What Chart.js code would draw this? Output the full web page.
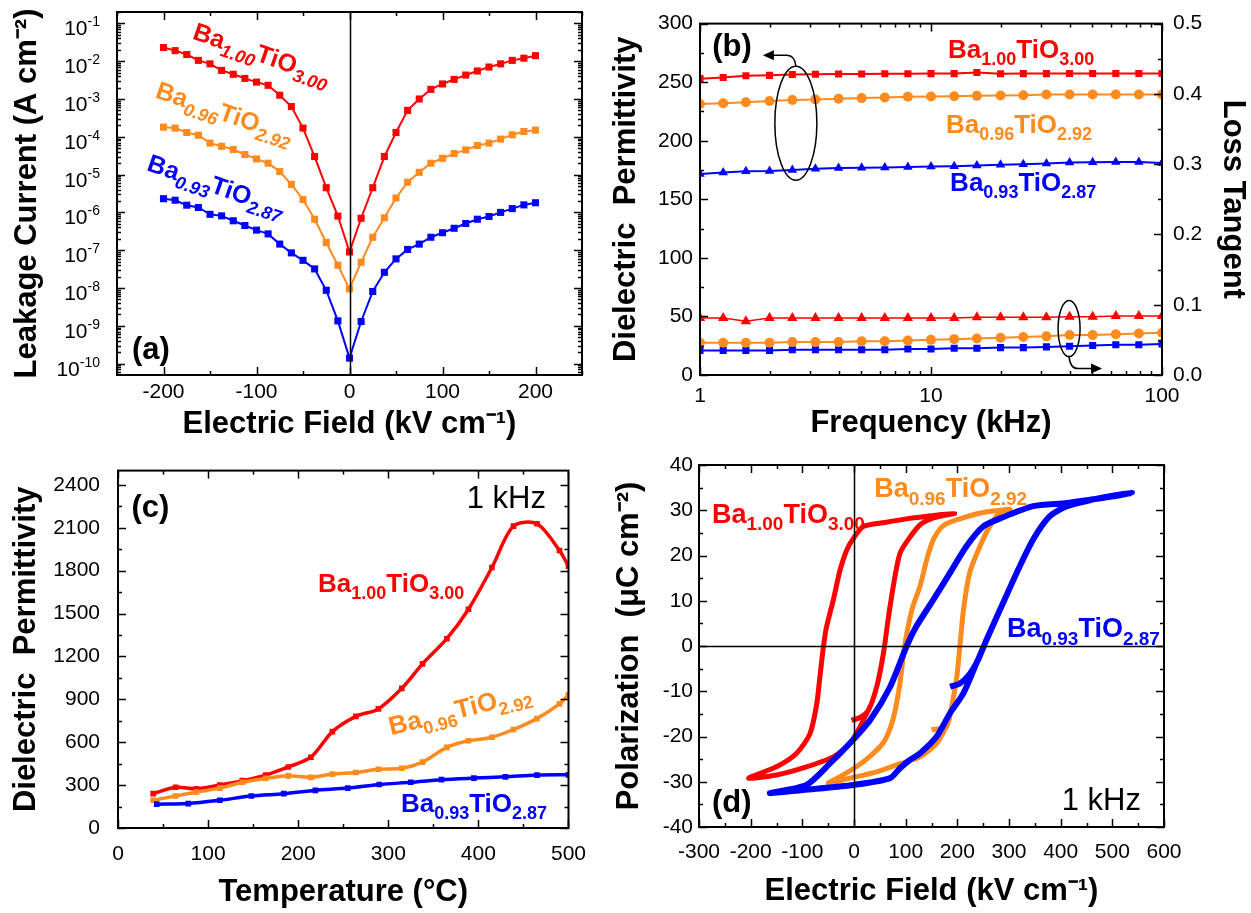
<!DOCTYPE html>
<html>
<head>
<meta charset="utf-8">
<title>BaTiO3 panels</title>
<script src="https://cdn.jsdelivr.net/npm/chart.js@4.4.1/dist/chart.umd.min.js"></script>
<style>
  html, body { margin: 0; padding: 0; background: #fff; }
  #fig { position: relative; width: 1251px; height: 913px; overflow: hidden; }
  canvas { position: absolute; }
  #chartA { left: 0; top: 0; }
  #chartB { left: 600px; top: 0; }
  #chartC { left: 0; top: 440px; }
  #chartD { left: 600px; top: 440px; }
</style>
</head>
<body>
<div id="fig">
  <canvas id="chartA" width="600" height="440"></canvas>
  <canvas id="chartB" width="651" height="440"></canvas>
  <canvas id="chartC" width="600" height="473"></canvas>
  <canvas id="chartD" width="651" height="473"></canvas>
</div>
<script>
// ---- (a) leakage current vs field ----
const fieldA = [-200, -187.5, -175, -162.5, -150, -137.5, -125, -112.5, -100, -87.5, -75, -62.5, -50, -37.5, -25, -12.5,
  0, 12.5, 25, 37.5, 50, 62.5, 75, 87.5, 100, 112.5, 125, 137.5, 150, 162.5, 175, 187.5, 200];
const leakRed = [2.3e-2, 1.9e-2, 1.5e-2, 1.05e-2, 8.5e-3, 5.7e-3, 4.5e-3, 3.5e-3, 2.8e-3, 2.3e-3, 1.26e-3, 6.3e-4, 1.7e-4, 3e-5, 4.5e-6, 8e-7,
  9e-8, 7e-7, 4.5e-6, 3e-5, 1.3e-4, 5e-4, 1e-3, 1.8e-3, 2.5e-3, 3.3e-3, 4.3e-3, 5.5e-3, 7e-3, 8.5e-3, 1.05e-2, 1.2e-2, 1.4e-2];
const leakOrange = [1.8e-4, 1.7e-4, 1.3e-4, 1.1e-4, 6.8e-5, 5.6e-5, 4.6e-5, 3.4e-5, 2.6e-5, 2e-5, 1.2e-5, 5.5e-6, 2.2e-6, 6.6e-7, 1.6e-7, 4e-8,
  9.5e-9, 4.8e-8, 2.2e-7, 7.2e-7, 2.4e-6, 6.3e-6, 1.15e-5, 2e-5, 2.7e-5, 3.6e-5, 4.5e-5, 5.9e-5, 6.8e-5, 8.7e-5, 1.13e-4, 1.38e-4, 1.5e-4];
const leakBlue = [2.3e-6, 2.1e-6, 1.55e-6, 1.35e-6, 8.9e-7, 8.1e-7, 6e-7, 4.5e-7, 3.4e-7, 2.7e-7, 1.45e-7, 8.5e-8, 5.4e-8, 3.2e-8, 8.7e-9, 1.35e-9,
  1.4e-10, 1.3e-9, 8.1e-9, 2.6e-8, 5.9e-8, 1.05e-7, 1.45e-7, 2.2e-7, 2.9e-7, 3.8e-7, 5.1e-7, 6.6e-7, 7.8e-7, 1e-6, 1.26e-6, 1.58e-6, 1.8e-6];
const ticksAx = [-200, -100, 0, 100, 200];
const minorAx = [-250, -150, -50, 50, 150, 250];
const decadesA = [-10, -9, -8, -7, -6, -5, -4, -3, -2, -1];

// ---- (b) permittivity / loss vs frequency ----
const freqB = [1, 1.26, 1.58, 2, 2.51, 3.16, 3.98, 5.01, 6.31, 7.94, 10, 12.6, 15.8, 20, 25.1, 31.6, 39.8, 50.1, 63.1, 79.4, 100];
const permRed = [253, 254, 255.5, 255.8, 256.5, 256.8, 257, 257, 257.2, 257.2, 257.3, 257.3, 258.3, 257.2, 257.3, 257.3, 257.4, 257.4, 257.4, 257.4, 257.4];
const permOrange = [231.4, 232, 232.8, 233.9, 234.7, 235.3, 235.8, 236.4, 236.9, 237.5, 237.8, 238, 238.3, 238.6, 238.9, 239.4, 239.4, 239.4, 239.4, 239.4, 239.4];
const permBlue = [171.7, 172.8, 173.9, 174.2, 175, 176, 176.7, 177, 177.2, 177.5, 178, 178.3, 178.9, 179.4, 180, 180.5, 181.4, 181.7, 181.9, 181.9, 181];
const tanRed = [0.081, 0.081, 0.0765, 0.081, 0.081, 0.081, 0.081, 0.081, 0.081, 0.081, 0.081, 0.081, 0.082, 0.082, 0.082, 0.082, 0.083, 0.083, 0.084, 0.084, 0.084];
const tanOrange = [0.046, 0.046, 0.046, 0.046, 0.047, 0.047, 0.047, 0.048, 0.048, 0.049, 0.050, 0.051, 0.052, 0.053, 0.054, 0.055, 0.057, 0.057, 0.058, 0.059, 0.060];
const tanBlue = [0.035, 0.035, 0.035, 0.035, 0.036, 0.036, 0.036, 0.036, 0.036, 0.037, 0.037, 0.038, 0.038, 0.039, 0.039, 0.040, 0.041, 0.042, 0.043, 0.043, 0.044];
const ticksBx = [1, 10, 100];
const minorBx = [2, 3, 4, 5, 6, 7, 8, 9, 20, 30, 40, 50, 60, 70, 80, 90];
const ticksBy = [0, 50, 100, 150, 200, 250, 300];
const minorBy = [25, 75, 125, 175, 225, 275];
const ticksBy2 = [0, 0.1, 0.2, 0.3, 0.4, 0.5];
const minorBy2 = [0.05, 0.15, 0.25, 0.35, 0.45];

// ---- (c) permittivity vs temperature ----
const tempRed = [39, 64, 87, 113, 138, 164, 189, 214, 238, 264, 289, 315, 338, 365, 389, 415, 439, 465, 490, 500];
const epsRed = [240, 285, 274, 301, 331, 370, 427, 495, 674, 781, 833, 977, 1148, 1324, 1530, 1822, 2112, 2128, 1941, 1831];
const tempOrange = [39, 64, 87, 113, 138, 164, 189, 214, 238, 264, 289, 315, 338, 365, 389, 415, 439, 465, 490, 500];
const epsOrange = [194, 224, 251, 279, 320, 347, 365, 354, 377, 388, 411, 418, 461, 564, 610, 635, 689, 765, 868, 932];
const tempBlue = [43, 78, 113, 148, 184, 219, 255, 290, 325, 359, 395, 430, 465, 500];
const epsBlue = [167, 171, 194, 224, 240, 263, 279, 304, 320, 338, 349, 358, 370, 372];
const ticksCx = [0, 100, 200, 300, 400, 500];
const minorCx = [50, 150, 250, 350, 450];
const ticksCy = [0, 300, 600, 900, 1200, 1500, 1800, 2100, 2400];
const minorCy = [150, 450, 750, 1050, 1350, 1650, 1950, 2250];

// ---- (d) P-E loops ----
const fieldRed = [-5, 12, 28, 44, 57, 66, 76, 89, 108, 128, 154, 195, 150, 108, 60, 18, -1, -14, -27, -40, -53, -59, -66, -72, -85, -111, -150, -204, -150, -92, -40, -8, 12, 31];
const polRed = [-16.4, -15.8, -14.2, -9, -1.6, 5.8, 13.2, 20.5, 24, 26.8, 28.3, 29.3, 28.8, 28.2, 27.3, 26.4, 23.8, 21.2, 16.8, 10.2, 4.3, 0, -6.8, -12.7, -19.3, -23.7, -26.7, -29.2, -28.5, -26.7, -24.5, -21.5, -17.8, -13.4];
const fieldOrange = [150, 179, 189, 199, 205, 212, 224, 244, 263, 283, 302, 250, 205, 173, 154, 141, 128, 112, 98, 88, 75, 56, 18, -21, -50, -8, 44, 89, 128, 160, 179];
const polOrange = [-18.5, -17.8, -13.4, -6.8, 0, 8.1, 16.2, 22.1, 26.5, 29.5, 30.2, 29.5, 28.1, 26.6, 23.6, 19.2, 13.3, 8, 0, -9, -16.4, -21.5, -25.6, -28.5, -30.3, -29.2, -27.8, -26, -24.5, -21.5, -17.8];
const fieldBlue = [186, 205, 222, 237, 257, 283, 315, 347, 379, 412, 463, 509, 538, 509, 412, 347, 283, 250, 218, 186, 154, 121, 102, 70, 31, -8, -46, -92, -163, -99, -1, 70, 89, 108, 128, 160, 186, 212, 237];
const polBlue = [-9, -8.3, -6.5, -3.8, 1.5, 8.1, 16.2, 23.6, 28.7, 30.9, 32.4, 33.4, 33.8, 33.2, 31.6, 30.9, 28.2, 26.4, 22.1, 16.2, 10.3, 4.4, 0, -9, -16.4, -21.5, -25.9, -30.7, -32.5, -31.8, -30.7, -29.2, -27, -25.2, -23.7, -20, -14.8, -10.4, -3.8];
const ticksDx = [-300, -200, -100, 0, 100, 200, 300, 400, 500, 600];
const minorDx = [-250, -150, -50, 50, 150, 250, 350, 450, 550];
const ticksDy = [-40, -30, -20, -10, 0, 10, 20, 30, 40];
const minorDy = [-35, -25, -15, -5, 5, 15, 25, 35];

const FONT = '"Liberation Sans", Arial, Helvetica, sans-serif';
const RED = '#ff0000', ORANGE = '#ff8a1e', BLUE = '#0000ff';

function pts(xs, ys) {
  return xs.map((x, i) => ({ x: x, y: ys[i] }));
}

// log minor ticks (2..9 per decade)
function logMinor(lo, hi) {
  const out = [];
  for (let n = lo; n <= hi; n++) for (let k = 2; k <= 9; k++) out.push(k * Math.pow(10, n));
  return out;
}

function axis(o) {
  return {
    type: o.type || 'linear',
    position: o.position,
    min: o.min,
    max: o.max,
    grid: { display: false, drawTicks: false },
    border: { display: false },
    ticks: {
      display: o.showLabels !== false,
      color: '#000',
      font: { family: FONT, size: 21 },
      padding: o.pad,
      autoSkip: false,
      maxRotation: 0,
      callback: o.fmt || (v => String(v))
    },
    title: {
      display: true,
      text: o.title,
      color: '#000',
      font: { family: FONT, size: 31, weight: 'bold', lineHeight: 1 },
      padding: o.titlePad
    },
    afterBuildTicks: s => { s.ticks = o.ticks.map(v => ({ value: v })); },
    afterFit: s => { if (s.isHorizontal()) s.height = o.size; else s.width = o.size; }
  };
}

// chemical formula with subscripts, parts alternate main / subscript
function drawFormula(ctx, x, y, it) {
  const S = it.size;
  ctx.save();
  ctx.translate(x, y);
  ctx.rotate((it.angle || 0) * Math.PI / 180);
  ctx.fillStyle = it.color;
  ctx.textAlign = 'left';
  ctx.textBaseline = 'alphabetic';
  let cx = 0;
  it.parts.forEach((p, i) => {
    const sub = i % 2 === 1;
    const sz = sub ? Math.round(S * 0.7) : S;
    ctx.font = (sub && it.italicSub ? 'italic ' : '') + 'bold ' + sz + 'px ' + FONT;
    ctx.fillText(p, cx, sub ? S * 0.28 : 0);
    cx += ctx.measureText(p).width;
  });
  ctx.restore();
}

function arrowHead(ctx, x, y, dir) {
  ctx.beginPath();
  ctx.moveTo(x, y);
  ctx.lineTo(x - dir * 11, y - 5);
  ctx.lineTo(x - dir * 11, y + 5);
  ctx.closePath();
  ctx.fill();
}

const decor = {
  id: 'decor',
  afterDatasetsDraw(chart, args, o) {
    const ctx = chart.ctx, a = chart.chartArea, sc = chart.scales;
    ctx.save();
    ctx.strokeStyle = '#000';
    ctx.fillStyle = '#000';
    ctx.lineWidth = 1.5;
    (o.zeroV || []).forEach(v => {
      const p = Math.round(sc.x.getPixelForValue(v)) + 0.5;
      ctx.beginPath(); ctx.moveTo(p, a.top); ctx.lineTo(p, a.bottom); ctx.stroke();
    });
    (o.zeroH || []).forEach(v => {
      const p = Math.round(sc.y.getPixelForValue(v)) + 0.5;
      ctx.beginPath(); ctx.moveTo(a.left, p); ctx.lineTo(a.right, p); ctx.stroke();
    });
    // frame
    ctx.lineWidth = 2;
    ctx.strokeRect(a.left, a.top, a.right - a.left, a.bottom - a.top);
    // inward tick marks
    ctx.lineWidth = 1.5;
    (o.marks || []).forEach(m => {
      const s = sc[m.scale];
      const draw = (vals, len) => vals.forEach(v => {
        if (v < s.min || v > s.max) return;
        const p = Math.round(s.getPixelForValue(v)) + 0.5;
        m.sides.forEach(side => {
          ctx.beginPath();
          if (side === 'bottom') { ctx.moveTo(p, a.bottom); ctx.lineTo(p, a.bottom - len); }
          if (side === 'top') { ctx.moveTo(p, a.top); ctx.lineTo(p, a.top + len); }
          if (side === 'left') { ctx.moveTo(a.left, p); ctx.lineTo(a.left + len, p); }
          if (side === 'right') { ctx.moveTo(a.right, p); ctx.lineTo(a.right - len, p); }
          ctx.stroke();
        });
      });
      draw(m.major, 8);
      draw(m.minor || [], 4);
    });
    // ellipses with arrows (panel b)
    (o.ellipses || []).forEach(e => {
      const cx = sc.x.getPixelForValue(e.x), cy = sc[e.yScale].getPixelForValue(e.y);
      ctx.lineWidth = 1.5;
      ctx.beginPath(); ctx.ellipse(cx, cy, e.rx, e.ry, 0, 0, Math.PI * 2); ctx.stroke();
      ctx.beginPath();
      if (e.arrow === 'left') {
        const t = cy - e.ry, yy = t - 11;
        ctx.moveTo(cx, t);
        ctx.quadraticCurveTo(cx - 1, yy, cx - 9, yy);
        ctx.lineTo(cx - 24, yy);
        ctx.stroke();
        arrowHead(ctx, cx - 33, yy, -1);
      } else {
        const b = cy + e.ry, yy = b + 12;
        ctx.moveTo(cx, b);
        ctx.quadraticCurveTo(cx + 1, yy, cx + 9, yy);
        ctx.lineTo(cx + 24, yy);
        ctx.stroke();
        arrowHead(ctx, cx + 33, yy, 1);
      }
    });
    ctx.restore();
  },
  afterDraw(chart, args, o) {
    const ctx = chart.ctx, sc = chart.scales;
    ctx.save();
    // 10^n labels for the log axis (panel a)
    if (o.expLabels) {
      const e = o.expLabels, s = sc[e.scale];
      ctx.fillStyle = '#000';
      ctx.textAlign = 'right';
      ctx.textBaseline = 'alphabetic';
      e.values.forEach(n => {
        const p = s.getPixelForValue(Math.pow(10, n));
        ctx.font = '14px ' + FONT;
        const sup = String(n);
        const w = ctx.measureText(sup).width;
        ctx.fillText(sup, e.right, p + 3);
        ctx.font = '21px ' + FONT;
        ctx.fillText('10', e.right - w, p + 12);
      });
    }
    (o.labels || []).forEach(it => {
      const x = sc.x.getPixelForValue(it.x), y = sc[it.yScale || 'y'].getPixelForValue(it.y);
      if (it.parts) {
        drawFormula(ctx, x, y, it);
      } else {
        ctx.fillStyle = it.color || '#000';
        ctx.textAlign = 'left';
        ctx.textBaseline = 'alphabetic';
        ctx.font = (it.bold ? 'bold ' : '') + it.size + 'px ' + FONT;
        ctx.fillText(it.text, x, y);
      }
    });
    ctx.restore();
  }
};
Chart.register(decor);

const common = {
  responsive: false,
  animation: false,
  events: [],
  plugins: { legend: { display: false }, tooltip: { enabled: false } }
};

function lineSet(data, color, style, radius, width, yAxisID) {
  return {
    data: data,
    showLine: true,
    borderColor: color,
    backgroundColor: color,
    borderWidth: width,
    pointStyle: style,
    pointRadius: radius,
    pointBorderWidth: 0,
    pointBackgroundColor: color,
    tension: 0,
    yAxisID: yAxisID || 'y'
  };
}

// ---------- (a) ----------
new Chart(document.getElementById('chartA'), {
  type: 'scatter',
  data: {
    datasets: [
      lineSet(pts(fieldA, leakRed), RED, 'rect', 5, 2),
      lineSet(pts(fieldA, leakOrange), ORANGE, 'rect', 5, 2),
      lineSet(pts(fieldA, leakBlue), BLUE, 'rect', 5, 2)
    ]
  },
  options: Object.assign({}, common, {
    layout: { padding: { top: 12, right: 18, left: 0, bottom: 0 } },
    scales: {
      x: axis({ min: -250, max: 250, ticks: ticksAx, pad: 5, size: 65, title: 'Electric Field (kV cm\u207B\u00B9)', titlePad: { top: 0, bottom: 0 } }),
      y: axis({ type: 'logarithmic', min: 5e-11, max: 0.2, ticks: decadesA.map(n => Math.pow(10, n)), showLabels: false, pad: 0, size: 117,
        title: 'Leakage Current (A cm\u207B\u00B2)', titlePad: { top: 12, bottom: 0 } })
    },
    plugins: Object.assign({}, common.plugins, {
      decor: {
        zeroV: [0],
        marks: [
          { scale: 'x', sides: ['bottom', 'top'], major: ticksAx, minor: minorAx },
          { scale: 'y', sides: ['left', 'right'], major: decadesA.map(n => Math.pow(10, n)), minor: logMinor(-11, -1) }
        ],
        expLabels: { scale: 'y', values: decadesA, right: 100 },
        labels: [
          { x: -170, y: 0.0398, parts: ['Ba', '1.00', 'TiO', '3.00'], color: RED, size: 25, angle: 19, italicSub: true },
          { x: -210, y: 1.12e-3, parts: ['Ba', '0.96', 'TiO', '2.92'], color: ORANGE, size: 25, angle: 19, italicSub: true },
          { x: -219, y: 1.32e-5, parts: ['Ba', '0.93', 'TiO', '2.87'], color: BLUE, size: 25, angle: 19, italicSub: true },
          { x: -234, y: 1.3e-10, text: '(a)', size: 31, bold: true }
        ]
      }
    })
  })
});

// ---------- (b) ----------
new Chart(document.getElementById('chartB'), {
  type: 'scatter',
  data: {
    datasets: [
      lineSet(pts(freqB, permRed), RED, 'rect', 5, 2),
      lineSet(pts(freqB, permOrange), ORANGE, 'circle', 5, 2),
      lineSet(pts(freqB, permBlue), BLUE, 'triangle', 5.5, 2),
      lineSet(pts(freqB, tanRed), RED, 'triangle', 6, 1.5, 'y1'),
      lineSet(pts(freqB, tanOrange), ORANGE, 'circle', 5, 2, 'y1'),
      lineSet(pts(freqB, tanBlue), BLUE, 'rect', 5, 2, 'y1')
    ]
  },
  options: Object.assign({}, common, {
    layout: { padding: { top: 11, right: 0, left: 0, bottom: 0 } },
    scales: {
      x: axis({ type: 'logarithmic', min: 1, max: 100, ticks: ticksBx, pad: 9, size: 65, title: 'Frequency (kHz)', titlePad: { top: 0, bottom: 1 } }),
      y: axis({ min: 0, max: 300, ticks: ticksBy, pad: 7, size: 100, title: 'Dielectric  Permittivity', titlePad: { top: 11, bottom: 0 } }),
      y1: axis({ position: 'right', min: 0, max: 0.5, ticks: ticksBy2, fmt: v => v.toFixed(1), pad: 11, size: 89, title: 'Loss Tangent', titlePad: { top: 3, bottom: 0 } })
    },
    plugins: Object.assign({}, common.plugins, {
      decor: {
        marks: [
          { scale: 'x', sides: ['bottom', 'top'], major: ticksBx, minor: minorBx },
          { scale: 'y', sides: ['left'], major: ticksBy, minor: minorBy },
          { scale: 'y1', sides: ['right'], major: ticksBy2, minor: minorBy2 }
        ],
        ellipses: [
          { x: 2.6, y: 215, yScale: 'y', rx: 21, ry: 57, arrow: 'left' },
          { x: 39.6, y: 0.066, yScale: 'y1', rx: 11, ry: 28, arrow: 'right' }
        ],
        labels: [
          { x: 11.85, y: 271, parts: ['Ba', '1.00', 'TiO', '3.00'], color: RED, size: 26 },
          { x: 11.6, y: 207, parts: ['Ba', '0.96', 'TiO', '2.92'], color: ORANGE, size: 26 },
          { x: 12.1, y: 157, parts: ['Ba', '0.93', 'TiO', '2.87'], color: BLUE, size: 26 },
          { x: 1.13, y: 272, text: '(b)', size: 31, bold: true }
        ]
      }
    })
  })
});

// ---------- (c) ----------
new Chart(document.getElementById('chartC'), {
  type: 'scatter',
  data: {
    datasets: [
      Object.assign(lineSet(pts(tempBlue, epsBlue), BLUE, 'rect', 4, 3.5), { tension: 0.3 }),
      Object.assign(lineSet(pts(tempOrange, epsOrange), ORANGE, 'rect', 4, 3.5), { tension: 0.3 }),
      Object.assign(lineSet(pts(tempRed, epsRed), RED, 'rect', 4, 3.5), { tension: 0.3 })
    ]
  },
  options: Object.assign({}, common, {
    layout: { padding: { top: 23, right: 23, left: 0, bottom: 0 } },
    scales: {
      x: axis({ min: 0, max: 500, ticks: ticksCx, pad: 14, size: 85, title: 'Temperature (\u00B0C)', titlePad: { top: 0, bottom: 5 } }),
      y: axis({ min: 0, max: 2500, ticks: ticksCy, pad: 18, size: 118, title: 'Dielectric  Permittivity', titlePad: { top: 11, bottom: 0 } })
    },
    plugins: Object.assign({}, common.plugins, {
      decor: {
        marks: [
          { scale: 'x', sides: ['bottom', 'top'], major: ticksCx, minor: minorCx },
          { scale: 'y', sides: ['left', 'right'], major: ticksCy, minor: minorCy }
        ],
        labels: [
          { x: 222, y: 1653, parts: ['Ba', '1.00', 'TiO', '3.00'], color: RED, size: 26 },
          { x: 303, y: 648, parts: ['Ba', '0.96', 'TiO', '2.92'], color: ORANGE, size: 26, angle: -14 },
          { x: 314, y: 111, parts: ['Ba', '0.93', 'TiO', '2.87'], color: BLUE, size: 26 },
          { x: 15, y: 2178, text: '(c)', size: 31, bold: true },
          { x: 387, y: 2235, text: '1 kHz', size: 31 }
        ]
      }
    })
  })
});

// ---------- (d) ----------
new Chart(document.getElementById('chartD'), {
  type: 'scatter',
  data: {
    datasets: [
      Object.assign(lineSet(pts(fieldBlue, polBlue), BLUE, 'circle', 0, 6), { tension: 0.25 }),
      Object.assign(lineSet(pts(fieldOrange, polOrange), ORANGE, 'circle', 0, 5), { tension: 0.25 }),
      Object.assign(lineSet(pts(fieldRed, polRed), RED, 'circle', 0, 5), { tension: 0.25 })
    ]
  },
  options: Object.assign({}, common, {
    layout: { padding: { top: 25, right: 87, left: 0, bottom: 0 } },
    scales: {
      x: axis({ min: -300, max: 600, ticks: ticksDx, pad: 13, size: 86, title: 'Electric Field (kV cm\u207B\u00B9)', titlePad: { top: 0, bottom: 6 } }),
      y: axis({ min: -40, max: 40, ticks: ticksDy, pad: 6, size: 99, title: 'Polarization  (\u03BCC cm\u207B\u00B2)', titlePad: { top: 14, bottom: 0 } })
    },
    plugins: Object.assign({}, common.plugins, {
      decor: {
        zeroV: [0],
        zeroH: [0],
        marks: [
          { scale: 'x', sides: ['bottom', 'top'], major: ticksDx, minor: minorDx },
          { scale: 'y', sides: ['left', 'right'], major: ticksDy, minor: minorDy }
        ],
        labels: [
          { x: -275, y: 27.2, parts: ['Ba', '1.00', 'TiO', '3.00'], color: RED, size: 27 },
          { x: 39, y: 32.9, parts: ['Ba', '0.96', 'TiO', '2.92'], color: ORANGE, size: 27 },
          { x: 296, y: 2.0, parts: ['Ba', '0.93', 'TiO', '2.87'], color: BLUE, size: 27 },
          { x: -275, y: -36.6, text: '(d)', size: 31, bold: true },
          { x: 402, y: -36.3, text: '1 kHz', size: 31 }
        ]
      }
    })
  })
});
</script>
</body>
</html>
